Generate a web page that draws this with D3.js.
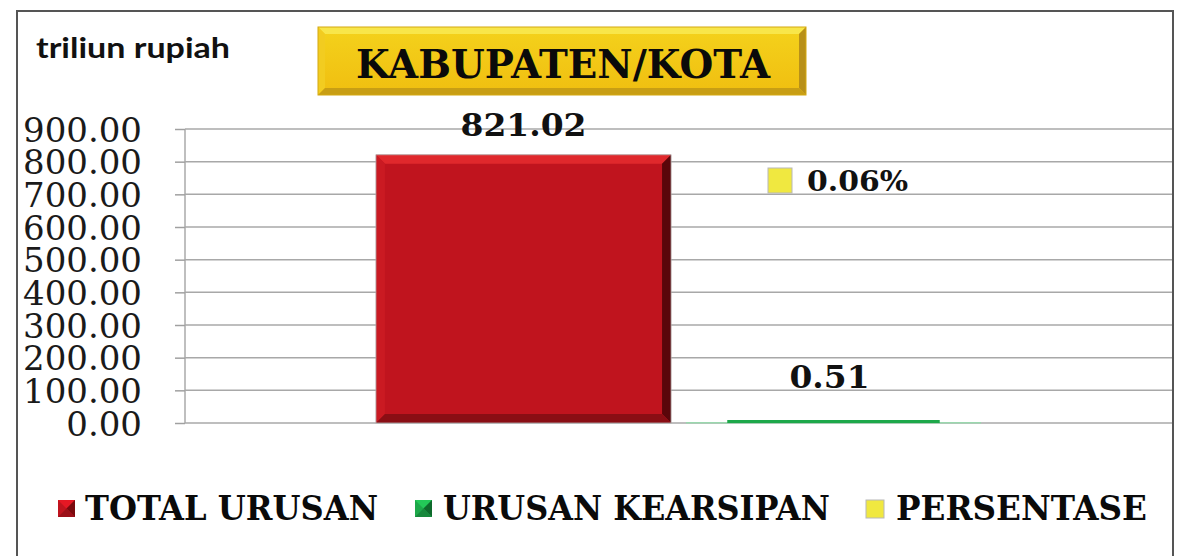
<!DOCTYPE html>
<html><head><meta charset="utf-8">
<script src="https://cdn.jsdelivr.net/npm/d3@7"></script>
<style>html,body{margin:0;padding:0;background:#fff;}svg{display:block;}</style>
</head><body>
<svg id="chart" width="1189" height="556"></svg>
<script>
const series = ["TOTAL URUSAN", "URUSAN KEARSIPAN", "PERSENTASE"];
const seriesValues = [821.02, 0.51];
const valueLabels = ["821.02", "0.51"];
const percentLabel = "0.06%";
const yTicks = [0, 100, 200, 300, 400, 500, 600, 700, 800, 900];
const title = "KABUPATEN/KOTA";
const unitLabel = "triliun rupiah";
const colors = ["#C0141E", "#1DA84A", "#F0E840"];

const svg = d3.select("#chart");
const defs = svg.append("defs");

// frame
svg.append("path").attr("d","M17,560 L17,11 L1173,11 L1173,560")
  .attr("fill","none").attr("stroke","#555").attr("stroke-width",2);

const y = d3.scaleLinear().domain([0,900]).range([423,129]);
const x = d3.scaleBand().domain(series.slice(0,2)).range([185,1172]).paddingInner(0.048).paddingOuter(0.616);

// gridlines & ticks
const yAxis = d3.axisLeft(y).tickValues(yTicks).tickSize(10).tickFormat(d3.format(".2f"));
const g = svg.append("g").attr("transform","translate(185,0)").call(yAxis);
g.select(".domain").attr("stroke","#aaa").attr("stroke-width",1.5).attr("d","M0,"+y(900)+"V"+y(0));
g.selectAll(".tick line").attr("stroke","#a0a0a0").attr("stroke-width",1.5);
g.selectAll(".tick text").attr("x",-43).attr("dy","0.36em")
  .attr("font-family","DejaVu Serif").attr("font-size",34).attr("fill","#1a1a1a");
svg.append("g").selectAll("line").data(yTicks).join("line")
  .attr("x1",185).attr("x2",1172).attr("y1",d=>y(d)).attr("y2",d=>y(d))
  .attr("stroke","#a8a8a8").attr("stroke-width",1.5);

// bevel bar drawer
function bevelBar(sel, x0, y0, w, h, base, light, dark, darker, b){
  b = Math.min(b, w/2, h/2);
  sel.append("rect").attr("x",x0).attr("y",y0).attr("width",w).attr("height",h).attr("fill",base);
  if (b < 1) return;
  const P = pts => pts.map(p=>p.join(",")).join(" ");
  sel.append("polygon").attr("points",P([[x0,y0],[x0+w,y0],[x0+w-b,y0+b],[x0+b,y0+b]])).attr("fill",light);
  sel.append("polygon").attr("points",P([[x0,y0],[x0+b,y0+b],[x0+b,y0+h-b],[x0,y0+h]])).attr("fill",d3.interpolateRgb(base,light)(0.3));
  sel.append("polygon").attr("points",P([[x0+w,y0],[x0+w,y0+h],[x0+w-b,y0+h-b],[x0+w-b,y0+b]])).attr("fill",darker);
  sel.append("polygon").attr("points",P([[x0,y0+h],[x0+b,y0+h-b],[x0+w-b,y0+h-b],[x0+w,y0+h]])).attr("fill",dark);
}

// red bar
const rb = svg.append("g");
const s0 = series[0];
bevelBar(rb, x(s0), y(seriesValues[0]), x.bandwidth(), y(0)-y(seriesValues[0]), colors[0], "#E0282C", "#8A0E14", "#5A060A", 9);
rb.append("rect").attr("x",x(s0)).attr("y",y(seriesValues[0])).attr("width",x.bandwidth()).attr("height",y(0)-y(seriesValues[0]))
  .attr("fill","none").attr("stroke","#b0b0b0").attr("stroke-width",0.8);

// green bar (tiny value)
const s1 = series[1];
const gh = Math.max(y(0)-y(seriesValues[1]), 1.5);
svg.append("rect").attr("x",x(s1)).attr("y",y(0)-1).attr("width",x.bandwidth()).attr("height",1.5).attr("fill","#9ad8ae");
svg.append("rect").attr("x",x(s1)+x.bandwidth()*0.14).attr("y",y(0)-gh-1.5).attr("width",x.bandwidth()*0.72).attr("height",gh+1.5).attr("fill",colors[1]);

// value labels
const labelFont = "DejaVu Serif";
svg.append("text").attr("x",x(s0)+x.bandwidth()/2).attr("y",136).attr("text-anchor","middle")
  .attr("font-family",labelFont).attr("font-weight","bold").attr("font-size",32).attr("fill","#111")
  .attr("textLength",126).attr("lengthAdjust","spacingAndGlyphs").text(valueLabels[0]);
svg.append("text").attr("x",x(s1)+x.bandwidth()/2-4).attr("y",388).attr("text-anchor","middle")
  .attr("font-family",labelFont).attr("font-weight","bold").attr("font-size",32).attr("fill","#111")
  .attr("textLength",80).attr("lengthAdjust","spacingAndGlyphs").text(valueLabels[1]);

// percentage label with key
svg.append("rect").attr("x",768).attr("y",168).attr("width",24).attr("height",25).attr("fill",colors[2]).attr("stroke","#b8b8b8").attr("stroke-width",1);
svg.append("text").attr("x",807).attr("y",191).attr("font-family",labelFont).attr("font-weight","bold").attr("font-size",28)
  .attr("fill","#111").attr("textLength",101).attr("lengthAdjust","spacingAndGlyphs").text(percentLabel);

// unit label
svg.append("text").attr("x",36).attr("y",58).attr("font-family","Lato").attr("font-weight","bold").attr("font-size",28)
  .attr("fill","#111").attr("textLength",194).attr("lengthAdjust","spacingAndGlyphs").text(unitLabel);

// title box
const lg = defs.append("linearGradient").attr("id","gold").attr("x1",0).attr("y1",0).attr("x2",0).attr("y2",1);
lg.append("stop").attr("offset","0%").attr("stop-color","#F4D21C");
lg.append("stop").attr("offset","100%").attr("stop-color","#F0BE10");
const tb = {x:318,y:27,w:488,h:68,b:7};
const T = svg.append("g");
T.append("rect").attr("x",tb.x).attr("y",tb.y).attr("width",tb.w).attr("height",tb.h).attr("fill","url(#gold)");
const P = pts => pts.map(p=>p.join(",")).join(" ");
T.append("polygon").attr("points",P([[tb.x,tb.y],[tb.x+tb.w,tb.y],[tb.x+tb.w-tb.b,tb.y+tb.b],[tb.x+tb.b,tb.y+tb.b]])).attr("fill","#F8E64A");
T.append("polygon").attr("points",P([[tb.x,tb.y],[tb.x+tb.b,tb.y+tb.b],[tb.x+tb.b,tb.y+tb.h-tb.b],[tb.x,tb.y+tb.h]])).attr("fill","#F2CC20");
T.append("polygon").attr("points",P([[tb.x+tb.w,tb.y],[tb.x+tb.w,tb.y+tb.h],[tb.x+tb.w-tb.b,tb.y+tb.h-tb.b],[tb.x+tb.w-tb.b,tb.y+tb.b]])).attr("fill","#B89018");
T.append("polygon").attr("points",P([[tb.x,tb.y+tb.h],[tb.x+tb.b,tb.y+tb.h-tb.b],[tb.x+tb.w-tb.b,tb.y+tb.h-tb.b],[tb.x+tb.w,tb.y+tb.h]])).attr("fill","#C89E14");
T.append("rect").attr("x",tb.x).attr("y",tb.y).attr("width",tb.w).attr("height",tb.h).attr("fill","none").attr("stroke","#D4A810").attr("stroke-width",1);
T.append("text").attr("x",356).attr("y",78).attr("font-family",labelFont).attr("font-weight","bold").attr("font-size",40)
  .attr("fill","#0a0a0a").attr("textLength",414).attr("lengthAdjust","spacingAndGlyphs").text(title);

// legend
const legendItems = [
  {key:[58,500], tx:85, tw:293},
  {key:[415,500], tx:443, tw:387},
  {key:[866,500], tx:896, tw:251}
];
const keyDark = ["#7a0a0e","#0e6a2c",null];
legendItems.forEach((it,i)=>{
  const lgG = svg.append("g");
  if (i<2){
    const k=17, kx=it.key[0], ky=it.key[1], c=colors[i];
    lgG.append("rect").attr("x",kx).attr("y",ky).attr("width",k).attr("height",k).attr("fill",c);
    lgG.append("polygon").attr("points",P([[kx,ky],[kx+k,ky],[kx+k/2,ky+k/2]])).attr("fill",d3.color(c).brighter(0.5));
    lgG.append("polygon").attr("points",P([[kx+k,ky],[kx+k,ky+k],[kx+k/2,ky+k/2]])).attr("fill",keyDark[i]);
    lgG.append("polygon").attr("points",P([[kx,ky+k],[kx+k,ky+k],[kx+k/2,ky+k/2]])).attr("fill",d3.color(c).darker(0.6));
  } else {
    lgG.append("rect").attr("x",it.key[0]).attr("y",it.key[1]).attr("width",18).attr("height",18).attr("fill",colors[2]).attr("stroke","#b8b8b8");
  }
  lgG.append("text").attr("x",it.tx).attr("y",520).attr("font-family",labelFont).attr("font-weight","bold").attr("font-size",33)
    .attr("fill","#0a0a0a").attr("textLength",it.tw).attr("lengthAdjust","spacingAndGlyphs").text(series[i]);
});
</script>
</body></html>
